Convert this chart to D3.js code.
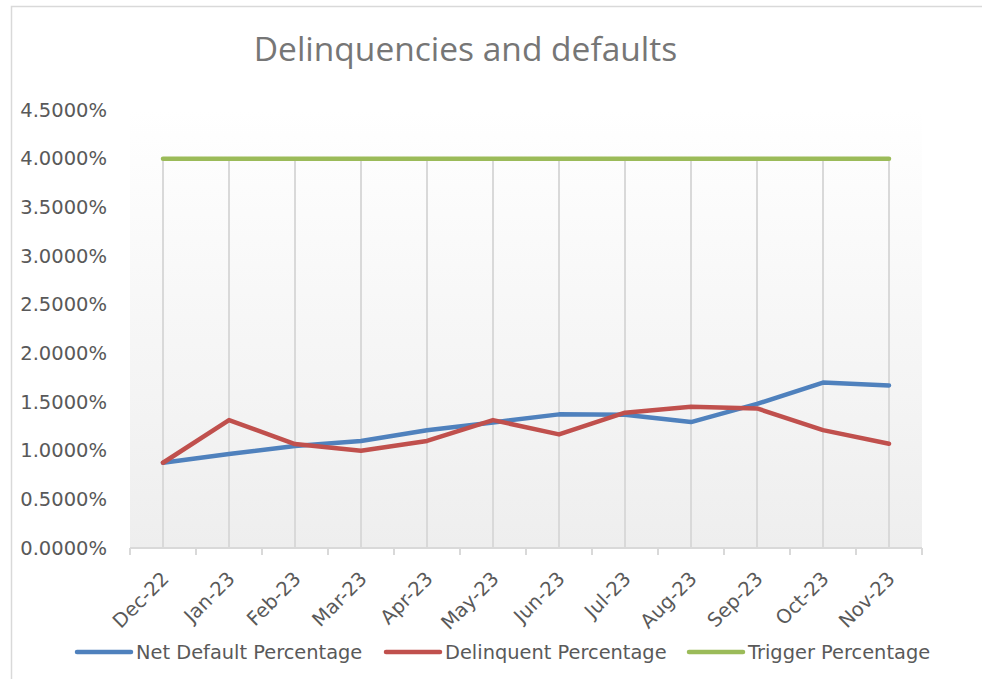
<!DOCTYPE html>
<html>
<head>
<meta charset="utf-8">
<script src="https://cdn.jsdelivr.net/npm/d3@7"></script>
<style>
  html, body { margin: 0; padding: 0; background: #fff; }
  svg { display: block; }
  text { font-family: "DejaVu Sans", sans-serif; fill: #595959; }
  .title { font-family: "Open Sans", sans-serif; fill: #767676; }
</style>
</head>
<body>
<svg id="chart" width="982" height="679"></svg>
<script>
// ---- data ----
const months = ["Dec-22","Jan-23","Feb-23","Mar-23","Apr-23","May-23","Jun-23","Jul-23","Aug-23","Sep-23","Oct-23","Nov-23"];
const netDefault = [0.876, 0.965, 1.047, 1.10, 1.21, 1.29, 1.373, 1.37, 1.294, 1.48, 1.70, 1.67];
const delinquent = [0.876, 1.314, 1.068, 0.999, 1.10, 1.314, 1.167, 1.39, 1.451, 1.434, 1.211, 1.071];
const trigger = [4, 4, 4, 4, 4, 4, 4, 4, 4, 4, 4, 4];
const yTicks = [0, 0.5, 1, 1.5, 2, 2.5, 3, 3.5, 4, 4.5];

const series = [
  { name: "Net Default Percentage", values: netDefault, color: "#4f81bd" },
  { name: "Delinquent Percentage", values: delinquent, color: "#c0504d" },
  { name: "Trigger Percentage", values: trigger, color: "#9bbb59" }
];

// ---- layout ----
const plot = { left: 130, right: 922, top: 110, bottom: 548 };
const svg = d3.select("#chart");

// chart frame
svg.append("rect")
  .attr("x", 11.5).attr("y", 6.5)
  .attr("width", 1000).attr("height", 700)
  .attr("fill", "#fff").attr("stroke", "#d9d9d9").attr("stroke-width", 1.5);

const x = d3.scaleBand().domain(months).range([plot.left, plot.right]);
const y = d3.scaleLinear().domain([0, 4.5]).range([plot.bottom, plot.top]);
const cx = d => x(d) + x.bandwidth() / 2;

// plot area gradient
const grad = svg.append("defs").append("linearGradient")
  .attr("id", "bg").attr("x1", 0).attr("y1", 0).attr("x2", 0).attr("y2", 1);
grad.append("stop").attr("offset", "0%").attr("stop-color", "#ffffff");
grad.append("stop").attr("offset", "100%").attr("stop-color", "#eeeeee");
svg.append("rect")
  .attr("x", plot.left).attr("y", plot.top)
  .attr("width", plot.right - plot.left).attr("height", plot.bottom - plot.top)
  .attr("fill", "url(#bg)");

// title
svg.append("text").attr("class", "title")
  .attr("x", 465.5).attr("y", 61)
  .attr("text-anchor", "middle")
  .attr("font-size", 33.5)
  .text("Delinquencies and defaults");

// drop lines from the highest point down to the axis
svg.append("g").selectAll("line")
  .data(months)
  .enter().append("line")
  .attr("x1", d => cx(d)).attr("x2", d => cx(d))
  .attr("y1", (d, i) => y(d3.max(series, s => s.values[i])))
  .attr("y2", y(0))
  .attr("stroke", "#d9d9d9").attr("stroke-width", 2);

// y axis labels
const yAxis = svg.append("g")
  .attr("transform", `translate(${plot.left},0)`)
  .call(d3.axisLeft(y).tickValues(yTicks).tickSize(0).tickPadding(23)
    .tickFormat(d => d3.format(".4f")(d) + "%"));
yAxis.select(".domain").remove();
yAxis.selectAll("text").attr("font-size", 19.5).attr("fill", "#595959")
  .attr("font-family", "DejaVu Sans");

// x axis
const boundaries = months.map(m => x(m)).concat([plot.right]);
const xAxis = svg.append("g");
xAxis.append("line")
  .attr("x1", plot.left).attr("x2", plot.right)
  .attr("y1", plot.bottom).attr("y2", plot.bottom)
  .attr("stroke", "#d9d9d9").attr("stroke-width", 2);
xAxis.selectAll("line.tick")
  .data(boundaries)
  .enter().append("line").attr("class", "tick")
  .attr("x1", d => d).attr("x2", d => d)
  .attr("y1", plot.bottom).attr("y2", plot.bottom + 7)
  .attr("stroke", "#d9d9d9").attr("stroke-width", 2);
xAxis.selectAll("text")
  .data(months)
  .enter().append("text")
  .attr("transform", d => `translate(${cx(d) + 7},${plot.bottom + 32}) rotate(-45)`)
  .attr("text-anchor", "end")
  .attr("font-size", 19.5)
  .text(d => d);

// lines
const line = d3.line()
  .x((d, i) => cx(months[i]))
  .y(d => y(d));
svg.append("g").selectAll("path")
  .data(series)
  .enter().append("path")
  .attr("d", d => line(d.values))
  .attr("fill", "none")
  .attr("stroke", d => d.color)
  .attr("stroke-width", 4.5)
  .attr("stroke-linejoin", "round")
  .attr("stroke-linecap", "round");

// legend
const legendX = [77, 386, 689];
const legend = svg.append("g").selectAll("g")
  .data(series)
  .enter().append("g")
  .attr("transform", (d, i) => `translate(${legendX[i]},652)`);
legend.append("line")
  .attr("x1", 0).attr("x2", 54)
  .attr("stroke", d => d.color).attr("stroke-width", 4.5)
  .attr("stroke-linecap", "round");
legend.append("text")
  .attr("x", 59).attr("dy", "0.35em")
  .attr("font-size", 19.4)
  .text(d => d.name);
</script>
</body>
</html>
